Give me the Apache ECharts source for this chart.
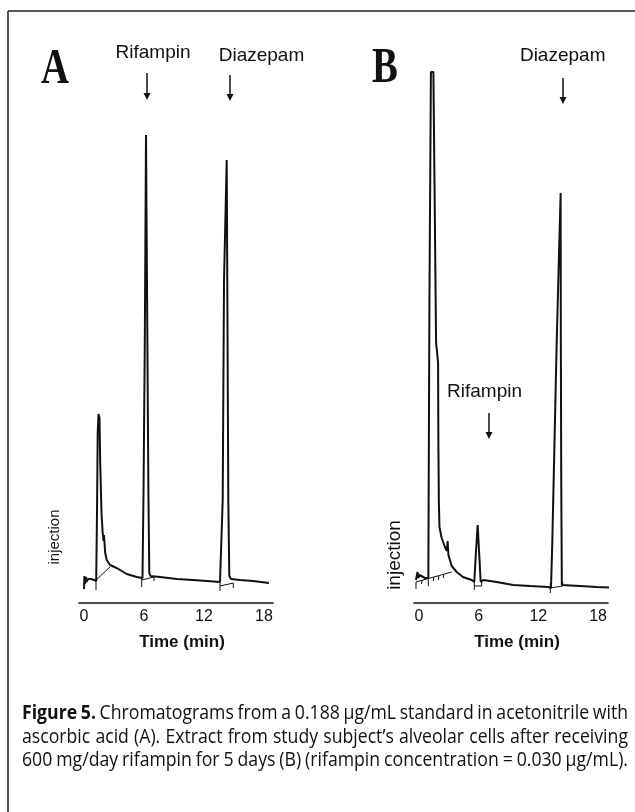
<!DOCTYPE html>
<html>
<head>
<meta charset="utf-8">
<script src="https://cdn.jsdelivr.net/npm/echarts@6/dist/echarts.min.js"></script>
<style>
html,body{margin:0;padding:0;background:#fff;}
#chart{width:635px;height:812px;}
</style>
</head>
<body>
<div id="chart"></div>
<script>
// ---- data (time in min, detector signal in arbitrary units) ----
const xTicks = [0, 6, 12, 18];

const traceA = [
  [0.0, 14], [0.04, 27], [0.1, 19], [0.18, 26], [0.28, 21], [0.4, 24], [0.7, 24], [1.0, 23], [1.22, 22],
  [1.3, 90], [1.37, 170], [1.45, 189], [1.55, 185], [1.62, 140], [1.75, 90], [1.87, 70],
  [1.95, 62], [2.0, 68], [2.05, 66], [2.12, 50], [2.27, 43], [2.6, 38], [3.27, 35], [4.27, 29], [5.27, 26], [5.85, 25],
  [5.95, 110], [6.08, 260], [6.2, 468], [6.34, 260], [6.44, 110], [6.53, 30], [6.65, 27], [6.8, 27],
  [7.6, 26], [9.3, 24], [10.9, 23], [12.3, 22], [13.6, 21], [13.7, 20],
  [13.87, 103], [14.0, 321], [14.27, 443], [14.33, 321], [14.43, 103], [14.53, 27], [14.7, 24],
  [15.6, 23], [16.9, 22], [17.7, 21], [18.5, 20]
];

const traceB = [
  [-0.3, 23], [-0.15, 31], [-0.05, 25], [0.05, 28], [0.25, 26], [0.6, 25], [0.94, 25],
  [1.05, 300], [1.2, 531], [1.45, 531], [1.65, 531], [1.72, 260], [1.8, 253], [1.92, 240], [1.95, 160], [2.0, 100], [2.06, 76],
  [2.28, 65], [2.61, 56], [2.8, 52], [2.88, 62], [2.96, 48], [3.29, 37], [3.79, 31], [4.42, 26], [5.3, 23], [5.56, 21],
  [5.72, 50], [5.9, 78], [6.05, 50], [6.2, 21], [6.46, 23], [7.8, 21], [9.48, 18], [11.16, 17], [13.0, 16], [13.27, 15],
  [13.4, 60], [13.84, 260], [14.24, 410], [14.26, 260], [14.3, 123], [14.36, 18], [14.45, 17],
  [16.2, 17], [17.86, 16], [20.1, 15]
];

// integration baseline marks (segments separated by gaps)
const marksA = [
  [1.2, 13], [1.2, 23], [2.6, 36], [1.2, null],
  [5.77, 16], [5.77, 25], [5.77, null],
  [5.77, 23], [7.0, 26], [7.0, 22], [7.0, null],
  [13.6, 12], [13.6, 22], [13.6, null],
  [13.6, 17], [14.93, 20], [14.93, 15], [14.93, null]
];
const marksB = [
  [-0.3, 14], [-0.3, 21], [3.29, 31], [3.29, null],
  [0.3, 23], [0.25, 19], [0.25, null],
  [0.94, 24], [0.94, 17], [0.94, null],
  [1.5, 26], [1.45, 22], [1.45, null],
  [2.0, 27], [1.95, 23], [1.95, null],
  [2.5, 29], [2.45, 25], [2.45, null],
  [5.56, 13], [5.56, 22], [5.56, null],
  [5.56, 17], [6.3, 17], [6.3, 22], [6.3, null],
  [13.2, 10], [13.2, 20], [13.2, null],
  [13.2, 15], [14.45, 17], [14.45, 21], [14.45, null]
];

const captionLines = [
  [["Figure 5.", true], ["Chromatograms from a 0.188 µg/mL standard in acetonitrile with", false]],
  [["ascorbic acid (A). Extract from study subject’s alveolar cells after receiving", false]],
  [["600 mg/day rifampin for 5 days (B) (rifampin concentration = 0.030 µg/mL).", false]]
];

// ---- rendering ----
const chart = echarts.init(document.getElementById('chart'), null, {renderer: 'canvas'});
const SANS = "'Liberation Sans', Arial, sans-serif";
const SERIF = "'Liberation Serif', 'Times New Roman', serif";
const CAPF = "'Open Sans', 'DejaVu Sans', sans-serif";
const INK = '#111';

function xAxisCfg(i, max) {
  return {
    gridIndex: i, type: 'value', min: -0.5, max: max,
    axisLine: {show: true, onZero: false, lineStyle: {color: INK, width: 1.6}},
    axisTick: {show: false}, splitLine: {show: false},
    axisLabel: {customValues: xTicks, fontSize: 16, color: INK, fontFamily: SANS, margin: 6},
    name: 'Time (min)', nameLocation: 'middle', nameGap: 31,
    nameTextStyle: {fontSize: 17, fontWeight: 'bold', color: INK, fontFamily: SANS, padding: [0, 0, 0, 12]}
  };
}
function yAxisCfg(i) {
  return {gridIndex: i, type: 'value', min: 0, max: 540, show: false};
}
function lineSeries(i, data, w) {
  return {type: 'line', xAxisIndex: i, yAxisIndex: i, data: data, showSymbol: false, symbol: 'none',
    connectNulls: false, clip: false, animation: false,
    lineStyle: {color: INK, width: w}};
}
function txt(x, y, text, size, opts) {
  opts = opts || {};
  return {type: 'text', x: x, y: y, rotation: opts.rotation || 0, scaleX: opts.scaleX || 1,
    style: {text: text, fontSize: size, fontFamily: opts.family || SANS, fontWeight: opts.weight || 'normal',
      fill: INK, align: opts.align || 'center', verticalAlign: 'middle',
      textAlign: opts.align || 'center', textVerticalAlign: 'middle'}};
}
function arrow(x, y1, y2) {
  return [
    {type: 'line', shape: {x1: x, y1: y1, x2: x, y2: y2 - 3}, style: {stroke: INK, lineWidth: 1.5}},
    {type: 'polygon', shape: {points: [[x - 3.5, y2 - 7], [x + 3.5, y2 - 7], [x, y2]]}, style: {fill: INK}}
  ];
}

const graphics = [];
// frame
graphics.push({type: 'line', shape: {x1: 8, y1: 11, x2: 640, y2: 11}, style: {stroke: '#222', lineWidth: 1.5}});
graphics.push({type: 'line', shape: {x1: 8, y1: 11, x2: 8, y2: 820}, style: {stroke: '#222', lineWidth: 1.5}});
// panel letters
graphics.push(txt(55, 70, 'A', 51, {family: SERIF, weight: 'bold', scaleX: 0.76}));
graphics.push(txt(385, 69, 'B', 51, {family: SERIF, weight: 'bold', scaleX: 0.76}));
// peak labels
graphics.push(txt(153, 53, 'Rifampin', 19));
graphics.push(txt(261.5, 56, 'Diazepam', 19));
graphics.push(txt(562.7, 56, 'Diazepam', 19));
graphics.push(txt(484.5, 392, 'Rifampin', 19));
graphics.push(...arrow(147, 73, 100));
graphics.push(...arrow(230, 75, 101));
graphics.push(...arrow(563, 78, 104));
graphics.push(...arrow(489, 413, 439));
// injection
graphics.push(txt(55, 537, 'injection', 15, {rotation: Math.PI / 2}));
graphics.push(txt(395, 555, 'injection', 19, {rotation: Math.PI / 2}));

// caption: condensed horizontally to fit, then justified word by word
const capSize = 20, capLeft = 22, capRight = 628, capY = [713, 737, 760];
const mctx = document.createElement('canvas').getContext('2d');
const fontStr = (bold) => (bold ? 'bold ' : 'normal ') + capSize + 'px ' + CAPF;
mctx.font = fontStr(false);
const spaceW = mctx.measureText(' ').width * 0.8;
const lineWords = captionLines.map(line => {
  const words = [];
  line.forEach(([s, bold]) => s.split(' ').forEach(w => words.push([w, bold])));
  const widths = words.map(([w, bold]) => { mctx.font = fontStr(bold); return mctx.measureText(w).width; });
  return {words, widths};
});
// common horizontal condensation across lines
let scale = 1;
lineWords.forEach(({words, widths}) => {
  const nat = widths.reduce((a, b) => a + b, 0) + spaceW * (words.length - 1);
  scale = Math.min(scale, (capRight - capLeft) / nat);
});
lineWords.forEach(({words, widths}, li) => {
  const total = widths.reduce((a, b) => a + b, 0) * scale;
  const gap = (capRight - capLeft - total) / (words.length - 1);
  let x = capLeft;
  words.forEach(([w, bold], k) => {
    graphics.push(txt(x, capY[li], w, capSize, {family: CAPF, weight: bold ? 'bold' : 'normal', align: 'left', scaleX: scale}));
    x += widths[k] * scale + gap;
  });
});

chart.setOption({
  animation: false,
  backgroundColor: '#fff',
  grid: [
    {left: 79, top: 63, width: 194, height: 540},
    {left: 414, top: 63, width: 194, height: 540}
  ],
  xAxis: [xAxisCfg(0, 18.9), xAxisCfg(1, 19.0)],
  yAxis: [yAxisCfg(0), yAxisCfg(1)],
  series: [
    lineSeries(0, traceA, 2),
    lineSeries(0, marksA, 1),
    lineSeries(1, traceB, 2),
    lineSeries(1, marksB, 1)
  ],
  graphic: graphics
});
</script>
</body>
</html>
